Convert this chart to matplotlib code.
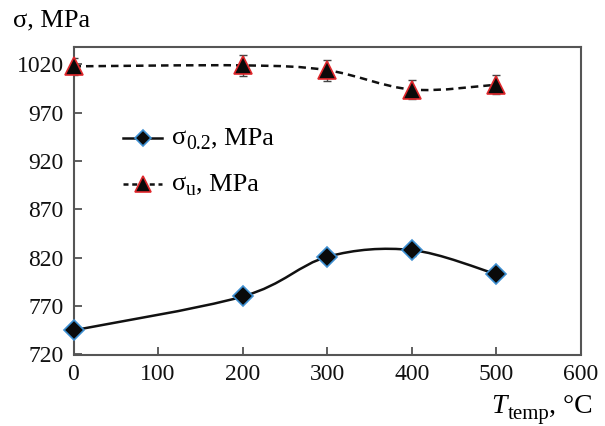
import numpy as np
import matplotlib
matplotlib.use("Agg")
import matplotlib.pyplot as plt
from matplotlib.path import Path
from matplotlib.patches import PathPatch
from matplotlib.lines import Line2D

plt.rcParams['font.family'] = ['Liberation Serif', 'DejaVu Serif']

temps = [0, 200, 300, 400, 500]
sigma_02 = [745, 780, 821, 828, 803]
sigma_02_err = [4, 5, 4, 6, 4]
sigma_u = [1018, 1019, 1014, 994, 999]
sigma_u_err = [9, 11, 11, 10, 10]
xticks = [0, 100, 200, 300, 400, 500, 600]
yticks = [720, 770, 820, 870, 920, 970, 1020]


def smooth_path(xs, ys):
    xs = np.asarray(xs, float)
    ys = np.asarray(ys, float)
    pts = np.column_stack([xs, ys])
    n = len(pts)
    verts = [pts[0]]
    codes = [Path.MOVETO]
    for i in range(n - 1):
        p0 = pts[i - 1] if i > 0 else pts[i]
        p1 = pts[i]
        p2 = pts[i + 1]
        p3 = pts[i + 2] if i + 2 < n else pts[i + 1]
        c1 = p1 + (p2 - p0) / 6.0
        c2 = p2 - (p3 - p1) / 6.0
        verts += [c1, c2, p2]
        codes += [Path.CURVE4] * 3
    return Path(verts, codes)


W, H = 605, 426
fig = plt.figure(figsize=(W / 100, H / 100), dpi=100)
ax = fig.add_axes([73.5 / W, 1 - 354.5 / H, (581 - 73.5) / W, (354.5 - 47) / H])

ax.add_patch(PathPatch(smooth_path(temps, sigma_02), fill=False,
                       edgecolor='#111111', lw=1.8, zorder=2))
ax.add_patch(PathPatch(smooth_path(temps, sigma_u), fill=False,
                       edgecolor='#111111', lw=1.8, linestyle=(0, (3, 2)),
                       zorder=2))

ax.errorbar(temps, sigma_02, yerr=sigma_02_err, fmt='none', ecolor='#444444',
            elinewidth=1.0, capsize=3, zorder=3)
ax.errorbar(temps, sigma_u, yerr=sigma_u_err, fmt='none', ecolor='#444444',
            elinewidth=1.0, capsize=3, zorder=3)
ax.plot(temps, sigma_02, linestyle='none', marker='D', markersize=10,
        markerfacecolor='#0a0a0a', markeredgecolor='#3d8fd1',
        markeredgewidth=1.2, zorder=4, clip_on=False)
ax.plot(temps, sigma_u, linestyle='none', marker='^', markersize=13,
        markerfacecolor='#0a0a0a', markeredgecolor='#e0282c',
        markeredgewidth=1.2, zorder=4, clip_on=False)

ax.set_xlim(0, 600)
ax.set_ylim(720, 1038)
ax.set_xticks(xticks)
ax.set_yticks(yticks)
ax.tick_params(direction='in', length=6, width=1.2, colors='#444444',
               labelcolor='#111111', labelsize=17)
ax.tick_params(axis='y', pad=7)
ax.tick_params(axis='x', pad=7)
for s in ax.spines.values():
    s.set_color('#555555')
    s.set_linewidth(1.5)


def fx(px):
    return px / W


def fy(py):
    return 1 - py / H


renderer = fig.canvas.get_renderer()


def text_width(t):
    return t.get_window_extent(renderer=renderer).width


def sub_text(x, y, base, sub, rest, size, base_style='normal'):
    """Draw base + subscript + rest; x, y = left baseline in figure px."""
    t1 = fig.text(fx(x), fy(y), base, fontsize=size, ha='left',
                  va='baseline', style=base_style)
    w1 = text_width(t1) + (1 if base_style == 'italic' else 0)
    drop = size * 0.28
    t2 = fig.text(fx(x + w1), fy(y + drop), sub, fontsize=size * 0.75,
                  ha='left', va='baseline')
    w2 = text_width(t2)
    fig.text(fx(x + w1 + w2), fy(y), rest, fontsize=size, ha='left',
             va='baseline')


for (row_y, ls, mk, ms, ec, sub) in [
        (138, '-', 'D', 8, '#3d8fd1', '0.2'),
        (184, (0, (2, 1.5)), '^', 11, '#e0282c', 'u')]:
    fig.add_artist(Line2D([fx(123), fx(162)], [fy(row_y), fy(row_y)],
                          color='#111111', lw=1.8, linestyle=ls))
    fig.add_artist(Line2D([fx(142.5)], [fy(row_y)], linestyle='none',
                          marker=mk, markersize=ms, markerfacecolor='#0a0a0a',
                          markeredgecolor=ec, markeredgewidth=1.2))
    sub_text(172, row_y + 6, 'σ', sub, ', MPa', 19)

fig.text(fx(13), fy(20), 'σ, MPa', fontsize=19, ha='left', va='center')
sub_text(491, 413, 'T', 'temp', ', °C', 20, base_style='italic')

fig.savefig('out.png', dpi=100)
